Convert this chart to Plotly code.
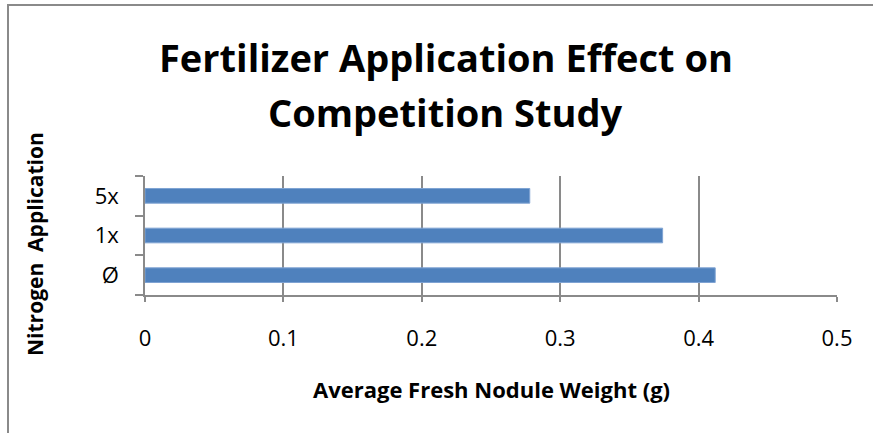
import plotly.graph_objects as go

categories = ["Ø", "1x", "5x"]
values = [0.412, 0.374, 0.278]
x_ticks = [0, 0.1, 0.2, 0.3, 0.4, 0.5]
x_tick_labels = ["0", "0.1", "0.2", "0.3", "0.4", "0.5"]
title_lines = ["Fertilizer Application Effect on", "Competition Study"]
x_title = "Average Fresh Nodule Weight (g)"
y_title = "Nitrogen  Application"

W, H = 873, 433
L, R, T, B = 145, 36, 176, 138
pw, ph = W - L - R, H - T - B

def px_x(px):
    return (px - L) / pw

def px_y(py):
    return (H - B - py) / ph

FONT = "Open Sans"
GRID = "#8a8a8a"

fig = go.Figure(go.Bar(
    x=values, y=categories, orientation="h",
    marker=dict(color="#4F81BD", line=dict(color="#7fa3d3", width=1)),
    width=0.37,
))

fig.update_layout(
    width=W, height=H,
    margin=dict(l=L, r=R, t=T, b=B),
    paper_bgcolor="white", plot_bgcolor="white",
    showlegend=False,
    font=dict(family=FONT, color="black"),
)

fig.update_xaxes(
    range=[0, 0.5], tickvals=x_ticks, ticktext=x_tick_labels,
    showgrid=True, gridcolor=GRID, gridwidth=1.5,
    showline=True, linecolor=GRID, linewidth=2,
    ticks="outside", ticklen=5, tickcolor=GRID, tickwidth=1.5,
    ticklabelstandoff=18,
    tickfont=dict(size=22, family=FONT, color="black"),
    zeroline=False, fixedrange=True,
)
fig.update_yaxes(
    type="category", categoryorder="array", categoryarray=categories,
    range=[-0.5, 2.5], tickson="boundaries",
    showgrid=False,
    showline=True, linecolor=GRID, linewidth=1.5,
    ticks="outside", ticklen=8, tickcolor=GRID, tickwidth=1.5,
    ticklabelstandoff=20,
    tickfont=dict(size=22, family=FONT, color="black"),
    fixedrange=True,
)

ann = []
ann.append(dict(text="<b>%s</b>" % title_lines[0], x=px_x(446), y=px_y(57),
                xref="paper", yref="paper", xanchor="center", yanchor="middle",
                showarrow=False, font=dict(size=38, family=FONT, color="black")))
ann.append(dict(text="<b>%s</b>" % title_lines[1], x=px_x(445), y=px_y(112),
                xref="paper", yref="paper", xanchor="center", yanchor="middle",
                showarrow=False, font=dict(size=38, family=FONT, color="black")))
ann.append(dict(text="<b>%s</b>" % x_title, x=px_x(492), y=px_y(389),
                xref="paper", yref="paper", xanchor="center", yanchor="middle",
                showarrow=False, font=dict(size=22, family=FONT, color="black")))
ann.append(dict(text="<b>%s</b>" % y_title, x=px_x(35), y=px_y(244), textangle=-90,
                xref="paper", yref="paper", xanchor="center", yanchor="middle",
                showarrow=False, font=dict(size=21, family=FONT, color="black")))
fig.update_layout(annotations=ann)

fig.add_shape(type="line", xref="paper", yref="paper",
              x0=px_x(8), x1=px_x(8), y0=px_y(5), y1=px_y(450),
              line=dict(color="#8a8a8a", width=2))
fig.add_shape(type="line", xref="paper", yref="paper",
              x0=px_x(7), x1=px_x(890), y0=px_y(5), y1=px_y(5),
              line=dict(color="#8a8a8a", width=2))

fig.write_html("out.html", config={"displayModeBar": False},
               post_script="document.body.style.margin='0';document.body.style.overflow='hidden';")
